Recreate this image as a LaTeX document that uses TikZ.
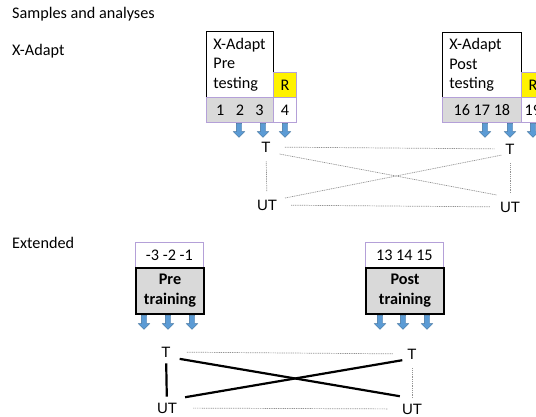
\documentclass[tikz,border=0pt]{standalone}
\usepackage{fontspec}
\setmainfont{Carlito}
\newfontfamily\grpfont{Liberation Sans}
\usetikzlibrary{shapes.arrows}
\definecolor{boxgray}{HTML}{D9D9D9}
\definecolor{lilac}{HTML}{B4A0D8}
\definecolor{arrowblue}{HTML}{5B9BD5}
\definecolor{arrowedge}{HTML}{41719C}
\tikzset{
  txt/.style={font=\fontsize{16.2}{19.5}\selectfont, inner sep=0pt},
  grp/.style={font=\fontsize{15}{18}\grpfont, inner sep=0pt},
  cell/.style={txt, draw=lilac, line width=0.8pt, minimum height=25pt, anchor=north west},
  headbox/.style={txt, draw, line width=0.8pt, fill=white, anchor=north west, align=left, inner xsep=7pt},
  trainbox/.style={txt, draw, line width=2pt, fill=boxgray, anchor=north west, align=center, font=\fontsize{16.2}{20}\selectfont\bfseries},
  downarrow/.style={single arrow, draw=arrowedge, fill=arrowblue, shape border rotate=270, minimum height=14pt, inner sep=2.5pt, single arrow head extend=3pt},
  weak/.style={draw=gray!85, dash pattern=on 1pt off 0.8pt, line width=0.7pt},
  strong/.style={line width=2.2pt},
}
\begin{document}
\begin{tikzpicture}[x=1pt, y=-1pt]
    \clip (0,0) rectangle (536,416);
    \useasboundingbox (0,0) rectangle (536,416);
    \node[txt, anchor=base west] (title) at (12,18) {Samples and analyses};
    \node[txt, anchor=base west] (xadapt) at (12,55) {X-Adapt};
    \node[txt, anchor=base west] (extended) at (12,248) {Extended};
  % X-Adapt pre testing
    \node[headbox, text width=53pt, minimum height=66pt] (pretest) at (206,31) {X-Adapt\\Pre\\testing};
    \node[cell, fill=yellow, minimum width=23pt] (prer) at (273,72) {R};
    \node[cell, fill=boxgray, minimum width=67pt] (presamp) at (206,97) {1\hspace{11.5pt}2\hspace{11.5pt}3};
    \node[cell, fill=white, minimum width=23pt] (prefour) at (273,97) {4};
    \foreach \x/\n in {239/1, 263/2, 285/3}
        \node[downarrow] (prearr\n) at (\x,129) {};
  % X-Adapt post testing
    \node[headbox, text width=65pt, minimum height=65pt] (posttest) at (442,32) {X-Adapt\\Post\\testing};
    \node[cell, fill=yellow, minimum width=23pt] (postr) at (521,72) {R};
    \node[cell, fill=boxgray, minimum width=79pt] (postsamp) at (442,97) {16 17 18};
    \node[cell, fill=white, minimum width=23pt] (postnine) at (521,97) {19};
    \foreach \x/\n in {485/1, 510/2, 533/3}
        \node[downarrow] (postarr\n) at (\x,129) {};
  % X-Adapt groups
    \node[grp] (ta) at (266,147) {T};
    \node[grp] (tb) at (510,149) {T};
    \node[grp] (uta) at (267,205) {UT};
    \node[grp] (utb) at (510,207) {UT};
    \draw[weak, shorten <=14pt, shorten >=10pt] (ta) -- (tb);
    \draw[weak, shorten <=14pt, shorten >=10pt] (uta) -- (utb);
    \draw[weak, shorten <=9pt, shorten >=8pt] (ta) -- (uta);
    \draw[weak, shorten <=9pt, shorten >=9pt] (tb) -- (utb);
    \draw[weak, shorten <=9pt, shorten >=3pt] (ta.south east) -- ([yshift=6pt]utb.north west);
    \draw[weak, shorten <=8pt, shorten >=4pt] (uta.north east) -- (tb.south west);
  % Extended pre training
    \node[cell, fill=white, minimum width=68pt] (presteps) at (135,242) {-3 -2 -1};
    \node[trainbox, minimum width=68pt, minimum height=46pt] (pretrain) at (135,267) {Pre\\training};
    \foreach \x/\n in {144/1, 168/2, 192/3}
        \node[downarrow] (trainarr\n) at (\x,321) {};
  % Extended post training
    \node[cell, fill=white, minimum width=78pt] (poststeps) at (365,242) {13 14 15};
    \node[trainbox, minimum width=78pt, minimum height=46pt] (posttrain) at (365,267) {Post\\training};
    \foreach \x/\n in {380/1, 403/2, 427/3}
        \node[downarrow] (ptrainarr\n) at (\x,321) {};
  % Extended groups
    \node[grp] (tc) at (166,352) {T};
    \node[grp] (td) at (412,354) {T};
    \node[grp] (utc) at (167,408) {UT};
    \node[grp] (utd) at (412,409) {UT};
    \draw[weak, shorten <=16pt, shorten >=14pt] (tc) -- (td);
    \draw[weak, shorten <=16pt, shorten >=14pt] (utc) -- (utd);
    \draw[strong, shorten <=6pt, shorten >=6pt] (tc) -- (utc);
    \draw[weak, shorten <=9pt, shorten >=5pt] (td) -- (utd);
    \draw[strong, shorten <=9pt, shorten >=2pt] (tc.south east) -- ([yshift=7pt]utd.north west);
    \draw[strong, shorten <=8pt, shorten >=5pt] ([yshift=4pt]utc.north east) -- (td.south west);
\end{tikzpicture}
\end{document}
